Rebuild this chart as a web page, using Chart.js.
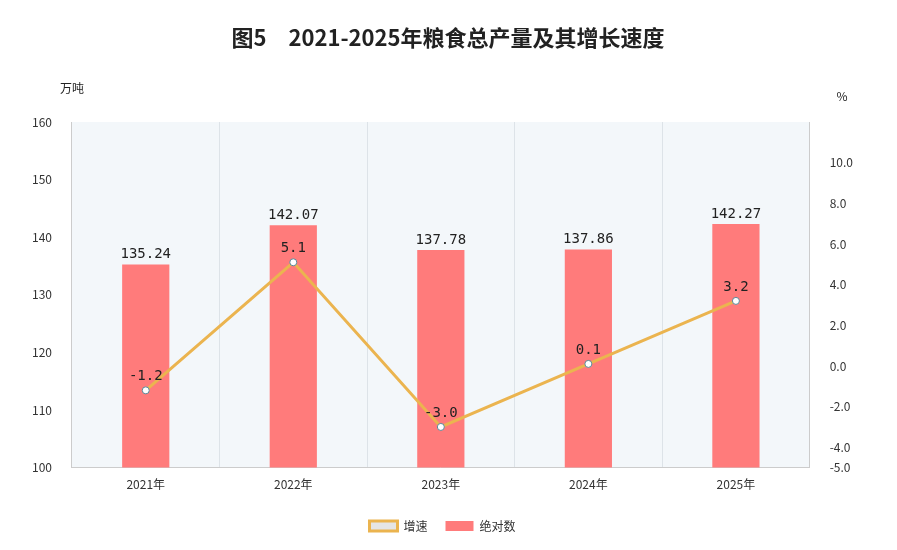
<!DOCTYPE html>
<html><head><meta charset="utf-8">
<script src="https://cdn.jsdelivr.net/npm/chart.js@4"></script>
<style>body{margin:0;background:#fff}</style>
</head><body>
<canvas id="c" width="897" height="550"></canvas>
<script>
const years = ['2021年', '2022年', '2023年', '2024年', '2025年']
const output = [135.24, 142.07, 137.78, 137.86, 142.27]
const growth = [-1.2, 5.1, -3.0, 0.1, 3.2]

const FONT = '"Noto Sans CJK SC", "DejaVu Sans", sans-serif'

// fond du graphique + libellés + unités
const decor = {
	id: 'decor',
	beforeDraw(chart) {
		const a = chart.chartArea, ctx = chart.ctx
		ctx.save()
		ctx.fillStyle = '#f3f7fa'
		ctx.fillRect(a.left, a.top, a.right - a.left, a.bottom - a.top)
		ctx.restore()
	},
	afterDatasetsDraw(chart) {
		const ctx = chart.ctx
		ctx.save()
		ctx.font = '14px "DejaVu Sans Mono", monospace'
		ctx.fillStyle = '#222'
		ctx.textAlign = 'center'
		chart.getDatasetMeta(0).data.forEach((b, i) => {
			ctx.fillText(output[i].toFixed(2), b.x, b.y - 10)
		})
		chart.getDatasetMeta(1).data.forEach((p, i) => {
			ctx.fillText(growth[i].toFixed(1), p.x, p.y - 14)
		})
		ctx.font = '12px ' + FONT
		ctx.fillText('万吨', 72, 88)
		ctx.fillText('%', 842, 96)
		ctx.font = 'bold 22px ' + FONT
		ctx.fillText('图5　2021-2025年粮食总产量及其增长速度', 448, 38)
		ctx.restore()
	}
}

new Chart(document.getElementById('c'), {
	data: {
		labels: years,
		datasets: [
			{ type: 'bar', label: '绝对数', data: output, backgroundColor: '#ff7b7b', yAxisID: 'y', barPercentage: 0.32, categoryPercentage: 1, order: 2 },
			{ type: 'line', label: '增速', data: growth, borderColor: '#ebb44f', borderWidth: 3, pointRadius: 3.5, pointBackgroundColor: '#fff', pointBorderColor: '#5a8a9a', pointBorderWidth: 1, yAxisID: 'y1', order: 1 }
		]
	},
	options: {
		responsive: false, animation: false,
		layout: { padding: { top: 122, left: 20, right: 32, bottom: 8 } },
		plugins: {
			legend: { position: 'bottom', labels: { font: { size: 12, family: FONT }, color: '#333', boxWidth: 28, boxHeight: 10, padding: 18 } },
			tooltip: { enabled: false }
		},
		scales: {
			x: { grid: { color: '#dde3e8', drawTicks: false, offset: true }, border: { color: '#ccc' }, ticks: { padding: 10, color: '#333', font: { size: 12, family: FONT } } },
			y: { position: 'left', min: 100, max: 160, ticks: { stepSize: 10, padding: 12, color: '#333', font: { size: 12, family: FONT } }, grid: { display: false }, border: { color: '#ccc' } },
			y1: { position: 'right', min: -5, max: 12, ticks: { stepSize: 2, padding: 12, color: '#333', font: { size: 12, family: FONT }, callback: v => v > 11 ? '' : v.toFixed(1) }, grid: { display: false }, border: { color: '#ccc' } }
		}
	},
	plugins: [decor]
})
</script>
</body></html>
